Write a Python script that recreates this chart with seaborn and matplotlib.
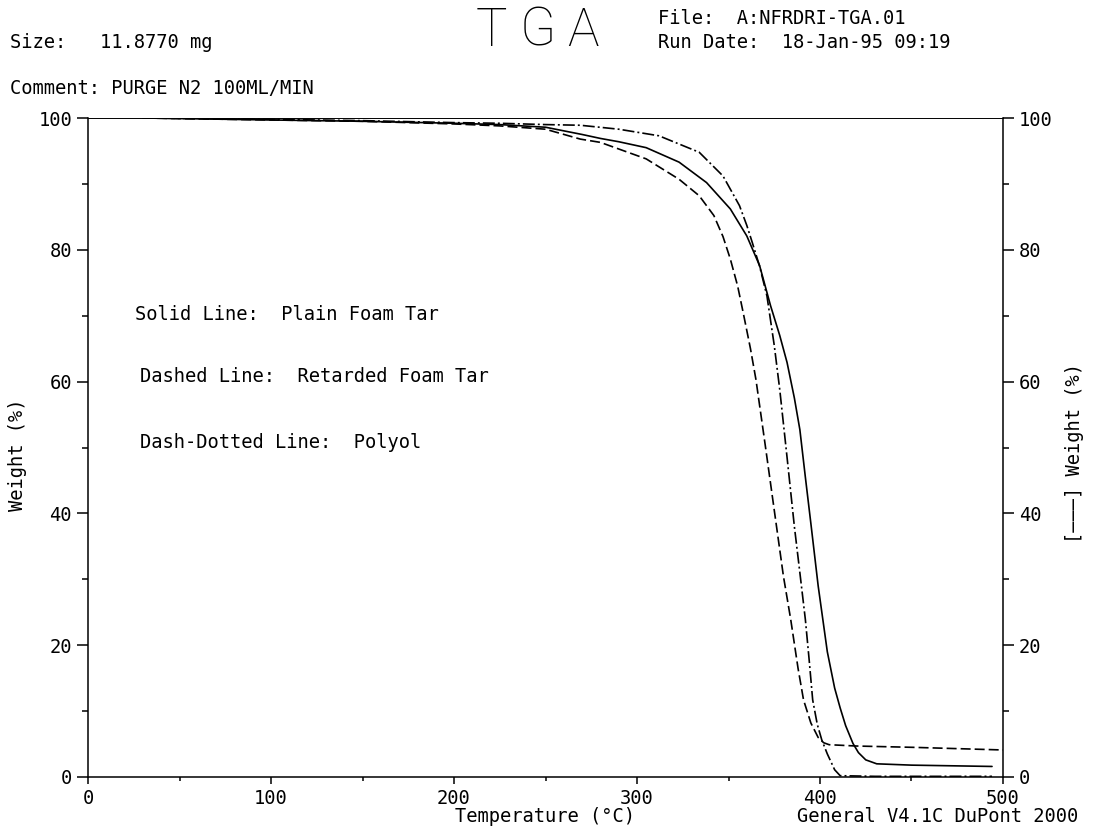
import matplotlib
matplotlib.use("Agg")
import numpy as np
import pandas as pd
import matplotlib.pyplot as plt
import seaborn as sns

# Thermogravimetric runs: temperature (°C) and remaining weight (%)
temp_plain = [30, 100, 150, 200, 225, 250, 270, 280, 290, 305, 323, 338, 351, 360, 367,
              373, 378, 382, 386, 389, 392, 395, 399, 404, 408, 411, 414, 418, 421, 425,
              431, 450, 494]
wt_plain = [100, 99.7, 99.5, 99.2, 99.0, 98.6, 97.5, 96.9, 96.4, 95.5, 93.3, 90.2, 86.2,
            82.1, 77.6, 71.5, 67.0, 62.9, 57.5, 52.7, 45.5, 38.5, 29.0, 19.0, 13.5, 10.5,
            7.8, 5.1, 3.7, 2.6, 2.0, 1.8, 1.6]

temp_retarded = [30, 100, 150, 200, 225, 250, 269, 280, 290, 305, 323, 334, 342, 347, 351,
                 355, 358, 362, 365, 370, 376, 380, 384, 388, 391, 395, 399, 402, 405, 420,
                 451, 500]
wt_retarded = [100, 99.7, 99.5, 99.1, 98.8, 98.3, 96.8, 96.3, 95.3, 93.8, 90.7, 88.2, 85.2,
               82.0, 78.6, 74.5, 70.5, 65.0, 60.3, 50.5, 38.5, 30.5, 23.9, 16.5, 11.7, 8.2,
               6.0, 5.2, 4.9, 4.7, 4.5, 4.1]

temp_polyol = [30, 100, 150, 200, 225, 250, 269, 290, 312, 334, 347, 356, 360, 363, 367,
               371, 375, 378, 382, 386, 389, 392, 394, 396, 398.5, 401, 404, 408, 411, 430,
               494]
wt_polyol = [100, 99.8, 99.6, 99.3, 99.2, 99.0, 98.9, 98.3, 97.3, 94.8, 91.2, 86.7, 83.7,
             81.1, 77.5, 73.0, 65.5, 58.8, 48.5, 38.0, 31.0, 23.9, 18.0, 11.7, 8.0, 5.6,
             3.5, 1.1, 0.2, 0.1, 0.1]

x_major = [0, 100, 200, 300, 400, 500]
y_major = [0, 20, 40, 60, 80, 100]

sns.set_style("ticks")
plt.rcParams["font.family"] = ["DejaVu Sans Mono", "DejaVu Sans"]
plt.rcParams["lines.scale_dashes"] = False
plt.rcParams["text.color"] = "black"

W, H = 1101, 831
fig = plt.figure(figsize=(W / 100, H / 100), dpi=100)
fig.patch.set_facecolor("white")


def fx(px):
    return px / W


def fy(py):
    return 1 - py / H


ax = fig.add_axes([fx(88), fy(777), (1003 - 88) / W, (777 - 118) / H])
ax.set_facecolor("white")

runs = [
    (temp_plain, wt_plain, None),
    (temp_retarded, wt_retarded, (7.2, 2.9)),
    (temp_polyol, wt_polyol, (8.6, 2.2, 1.4, 2.2)),
]
for temps, wts, dash in runs:
    df = pd.DataFrame({"Temperature": temps, "Weight": wts})
    sns.lineplot(data=df, x="Temperature", y="Weight", ax=ax, color="black",
                 linewidth=1.2, sort=False, estimator=None)
    if dash is not None:
        ax.lines[-1].set_dashes(dash)

ax.set_xlim(0, 500)
ax.set_ylim(0, 100)
ax.set_xticks(x_major)
ax.set_xticks([50, 150, 250, 350, 450], minor=True)
ax.set_yticks(y_major)
ax.set_yticks([10, 30, 50, 70, 90], minor=True)
ax.set_xlabel("")
ax.set_ylabel("")

for side in ["left", "right", "bottom", "top"]:
    ax.spines[side].set_visible(True)
    ax.spines[side].set_color("black")
    ax.spines[side].set_linewidth(1.1)
ax.spines["top"].set_linewidth(0.7)

ax.tick_params(axis="y", which="both", left=True, right=True, labelleft=True,
               labelright=True, direction="out", width=1.1, color="black",
               labelcolor="black")
ax.tick_params(axis="y", which="major", length=8, labelsize=13.5)
ax.tick_params(axis="y", which="minor", length=4.5)
ax.tick_params(axis="x", which="both", bottom=True, top=False, direction="out",
               width=1.1, color="black", labelcolor="black")
ax.tick_params(axis="x", which="major", length=5, pad=3.5, labelsize=13.5)
ax.tick_params(axis="x", which="minor", length=3)
for lab in ax.get_yticklabels():
    lab.set_color("black")
ax.yaxis.set_tick_params(which="major", pad=3.5)
for t in ax.yaxis.get_major_ticks():
    t.label2.set_x(1.0)
    t.set_pad(3.5)

mono = dict(fontsize=13.5, color="black")

# Header block
fig.text(fx(10), fy(43), "Size:   11.8770 mg", va="center", ha="left", **mono)
fig.text(fx(10), fy(88), "Comment: PURGE N2 100ML/MIN", va="center", ha="left", **mono)
for letter, cx in zip("TGA", [491, 538, 583]):
    fig.text(fx(cx), fy(31), letter, va="center", ha="center", fontsize=38,
             family=["Roboto", "DejaVu Sans"], fontweight=100, color="black")
fig.text(fx(658), fy(18), "File:  A:NFRDRI-TGA.01", va="center", ha="left", **mono)
fig.text(fx(658), fy(43), "Run Date:  18-Jan-95 09:19", va="center", ha="left", **mono)

# Curve key inside the plotting area
fig.text(fx(135), fy(315), "Solid Line:  Plain Foam Tar", va="center", ha="left", **mono)
fig.text(fx(140), fy(377), "Dashed Line:  Retarded Foam Tar", va="center", ha="left", **mono)
fig.text(fx(140), fy(443), "Dash-Dotted Line:  Polyol", va="center", ha="left", **mono)

# Axis titles
fig.text(fx(545), fy(816), "Temperature (°C)", va="center", ha="center", **mono)
fig.text(fx(797), fy(816), "General V4.1C DuPont 2000", va="center", ha="left", **mono)
fig.text(fx(18), fy(455), "Weight (%)", va="center", ha="center", rotation=90, **mono)
fig.text(fx(1075), fy(453), "[———] Weight (%)", va="center", ha="center", rotation=90, **mono)

fig.savefig("out.png", dpi=100, facecolor="white")
